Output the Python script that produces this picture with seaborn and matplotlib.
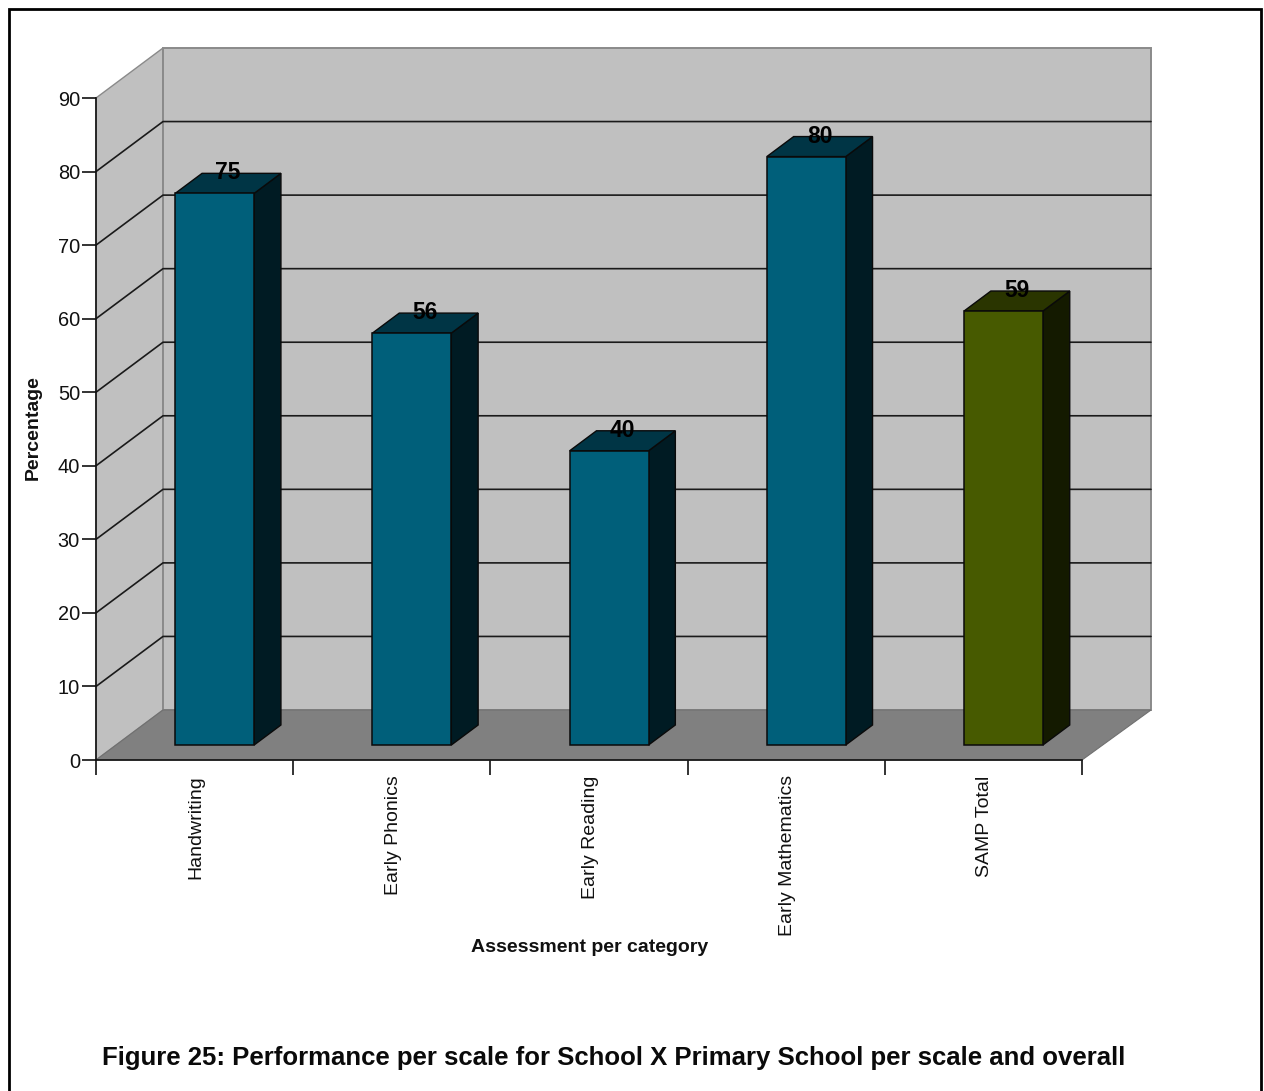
import matplotlib
matplotlib.use("Agg")
import matplotlib.pyplot as plt
from matplotlib.patches import Polygon, Rectangle
from matplotlib.transforms import Affine2D
import seaborn as sns

categories = ["Handwriting", "Early Phonics", "Early Reading", "Early Mathematics", "SAMP Total"]
scores = [75, 56, 40, 80, 59]
front_colors = ["#005F7A", "#005F7A", "#005F7A", "#005F7A", "#475A00"]
top_colors = ["#003545", "#003545", "#003545", "#003545", "#2A3500"]
side_colors = ["#001B23", "#001B23", "#001B23", "#001B23", "#141A00"]
y_ticks = list(range(0, 100, 10))

# Oblique depth of the chart box, in data units of the x and y axes
DEPTH_X = 67 / 197.2
DEPTH_Y = 50 / 7.356
BAR_NEAR = 0.3
BAR_FAR = 0.7
BACK_RIGHT_EXTRA = 0.01
WALL = "#C0C0C0"
FLOOR = "#808080"
FONT = ["Liberation Sans", "DejaVu Sans"]


def project(x, y, depth):
    return (x + depth * DEPTH_X, y + depth * DEPTH_Y)


def face(ax, corners, color, edge, lw, zorder):
    points = [project(*c) for c in corners]
    ax.add_patch(Polygon(points, closed=True, facecolor=color, edgecolor=edge,
                         linewidth=lw, zorder=zorder, clip_on=False, joinstyle="miter"))


sns.set_theme(style="ticks")
plt.rcParams["font.family"] = FONT

fig = plt.figure(figsize=(12.64, 10.91), dpi=100, facecolor="white")
ax = fig.add_axes([96 / 1264, (1091 - 760) / 1091, 986 / 1264, 662 / 1091])
ax.patch.set_visible(False)

sns.barplot(x=categories, y=scores, hue=categories, palette=front_colors, saturation=1,
            width=0.4, edgecolor="#0A0A0A", linewidth=1.1, legend=False, ax=ax, zorder=4)
ax.set_xlim(-0.5, 4.5)
ax.set_ylim(0, 90)

# Box walls and floor
x0, x1 = -0.5, 4.5
x_back = x1 + BACK_RIGHT_EXTRA
face(ax, [(x0, 0, 0), (x0, 0, 1), (x0, 90, 1), (x0, 90, 0)], WALL, "#8A8A8A", 1.0, 0.5)
face(ax, [(x0, 0, 1), (x_back, 0, 1), (x_back, 90, 1), (x0, 90, 1)], WALL, "#8A8A8A", 1.4, 0.6)
face(ax, [(x0, 0, 0), (x1, 0, 0), (x_back, 0, 1), (x0, 0, 1)], FLOOR, "#707070", 0.8, 0.7)

# Gridlines wrap from the side wall onto the back wall
for tick in y_ticks[1:-1]:
    xs, ys = zip(project(x0, tick, 0), project(x0, tick, 1), project(x_back, tick, 1))
    ax.plot(xs, ys, color="#1A1A1A", lw=1.2, zorder=0.9, clip_on=False)

# Extruded sides and tops, derived from the bars seaborn drew
shift = Affine2D().translate(BAR_NEAR * DEPTH_X, BAR_NEAR * DEPTH_Y)
for i, bar in enumerate(ax.patches[:len(scores)]):
    left, right = bar.get_x(), bar.get_x() + bar.get_width()
    height = bar.get_height()
    face(ax, [(right, 0, BAR_NEAR), (right, 0, BAR_FAR), (right, height, BAR_FAR), (right, height, BAR_NEAR)],
         side_colors[i], "#0A0A0A", 1.0, 3)
    face(ax, [(left, height, BAR_NEAR), (right, height, BAR_NEAR), (right, height, BAR_FAR), (left, height, BAR_FAR)],
         top_colors[i], "#0A0A0A", 1.0, 3)
    bar.set_transform(shift + ax.transData)
    bar.set_clip_on(False)
    ax.text(i + 0.5 * DEPTH_X, height + BAR_FAR * DEPTH_Y + 0.05, str(scores[i]),
            ha="center", va="center", fontsize=16.5, fontweight="bold", color="black",
            zorder=6, family=FONT)

# Axes and ticks
sns.despine(ax=ax, top=True, right=True)
for side in ("left", "bottom"):
    ax.spines[side].set_linewidth(1.2)
    ax.spines[side].set_color("#111111")
    ax.spines[side].set_zorder(5)
ax.set_yticks(y_ticks)
ax.tick_params(axis="y", length=10, width=1.2, color="#111111", pad=1.5, labelsize=14.4, labelcolor="#111111")
ax.set_xticks([i - 0.5 for i in range(len(categories) + 1)])
ax.set_xticklabels([])
ax.tick_params(axis="x", which="major", length=10.5, width=1.2, color="#111111")
ax.set_xticks([i + 0.007 for i in range(len(categories))], minor=True)
ax.set_xticklabels(categories, minor=True, rotation=90, ha="center", va="top", fontsize=14, color="#111111")
ax.tick_params(axis="x", which="minor", length=0, pad=11)
ax.set_xlabel("")
ax.set_ylabel("")

fig.text(33 / 1264, 1 - 428 / 1091, "Percentage", rotation=90, ha="center", va="center",
         fontsize=14, fontweight="bold", color="#111111")
fig.text(589.5 / 1264, 1 - 948 / 1091, "Assessment per category", ha="center", va="center",
         fontsize=14, fontweight="bold", color="#111111")
fig.text(614 / 1264, 1 - 1058 / 1091, "Figure 25: Performance per scale for School X Primary School per scale and overall",
         ha="center", va="center", fontsize=18.5, fontweight="bold", color="#0A0A0A")

# Page frame, open past the lower edge
fig.add_artist(Rectangle((9 / 1264, -0.02), 1252 / 1264, 1.02 - 8.5 / 1091, transform=fig.transFigure,
                         facecolor="none", edgecolor="black", linewidth=2))

fig.savefig("out.png", dpi=100, facecolor="white")
